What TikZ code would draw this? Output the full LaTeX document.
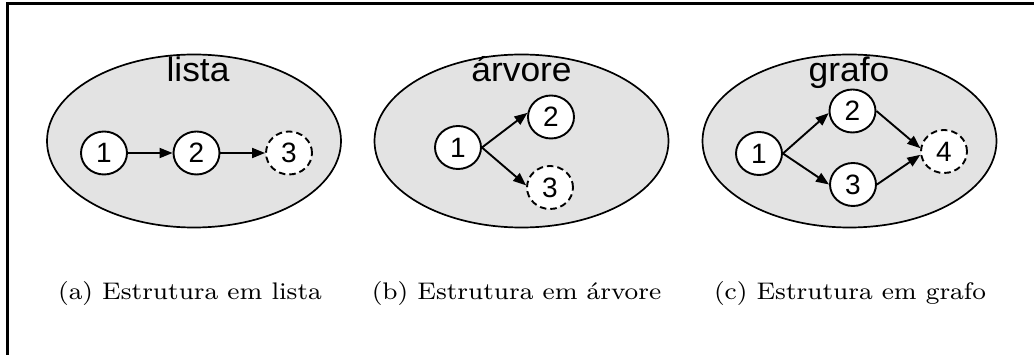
\documentclass[tikz,border=0pt]{standalone}
\usepackage{graphicx}
\usepackage{fontspec}
\newfontfamily\labelfont{Liberation Sans}
\usetikzlibrary{arrows.meta,shapes.geometric}
\definecolor{regiongray}{gray}{0.89}
% caption text: roman, set wide
\newcommand{\capttext}[1]{\scalebox{3.22}[3.0]{\fontsize{8}{9.6}\selectfont #1}}
\begin{document}
\begin{tikzpicture}[x=1pt,y=-1pt,
  region/.style={ellipse, draw, line width=1.7pt, fill=regiongray,
    minimum width=294pt, minimum height=173pt, inner sep=0pt},
  vertex/.style={ellipse, draw, fill=white, line width=1.9pt,
    minimum width=46pt, minimum height=43pt, inner sep=0pt,
    font=\labelfont\fontsize{28}{28}\selectfont},
  pending/.style={vertex, dash pattern=on 6.5pt off 4pt},
  edge/.style={line width=1.9pt, -{Triangle[length=13pt,width=10pt]}},
  title/.style={anchor=base, inner sep=0pt, font=\labelfont\fontsize{34}{34}\selectfont},
  caption/.style={anchor=base, inner sep=0pt}]
\useasboundingbox (0,0) rectangle (1034,355);
% frame
\draw[line width=3pt] (7.5,356) -- (7.5,3.5) -- (1035,3.5);

% (a) list
\node[region] (ra) at (194,141) {};
\node[title] (ta) at (198,82) {\scalebox{1.04}[1]{lista}};
\node[vertex]  (a1) at (104,153) {1};
\node[vertex]  (a2) at (196.5,153) {2};
\node[pending] (a3) at (289,153) {3};
\draw[edge] (a1.east) -- (a2.west);
\draw[edge] (a2.east) -- (a3.west);
\node[caption] (capa) at (190,300) {\capttext{(a) Estrutura em lista}};

% (b) tree
\node[region] (rb) at (521.5,141) {};
\node[title] (tb) at (521.5,82) {\scalebox{1.04}[1]{árvore}};
\node[vertex]  (b1) at (458,147.5) {1};
\node[vertex]  (b2) at (551,117) {2};
\node[pending] (b3) at (550,187.5) {3};
\draw[edge] (b1.east) -- (b2.170);
\draw[edge] (b1.east) -- (b3.175);
\node[caption] (capb) at (516.5,300) {\capttext{(b) Estrutura em árvore}};

% (c) graph
\node[region] (rc) at (849.5,141) {};
\node[title] (tc) at (849,82) {\scalebox{1.04}[1]{grafo}};
\node[vertex]  (c1) at (759,153.5) {1};
\node[vertex]  (c2) at (852.5,111) {2};
\node[vertex]  (c3) at (853,184.5) {3};
\node[pending] (c4) at (944,151.5) {4};
\draw[edge] (c1.east) -- (c2.185);
\draw[edge] (c1.east) -- (c3.180);
\draw[edge] (c2.east) -- (c4.172);
\draw[edge] (c3.east) -- (c4.188);
\node[caption] (capc) at (850,300) {\capttext{(c) Estrutura em grafo}};
\end{tikzpicture}
\end{document}
